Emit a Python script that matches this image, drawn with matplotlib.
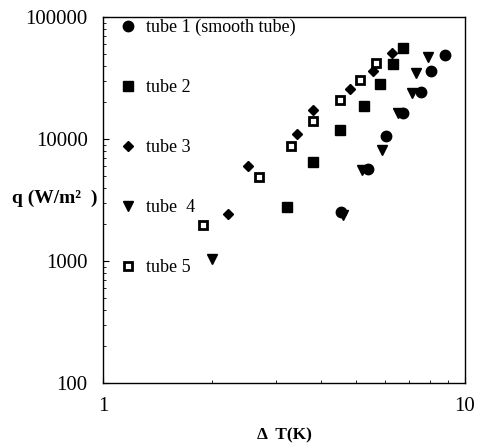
#!/usr/bin/env python3
# -*- coding: utf-8 -*-
"""Heat flux q vs. wall superheat dT for five tubes (log-log)."""
import matplotlib
matplotlib.use("Agg")
import matplotlib.pyplot as plt

plt.rcParams['font.family'] = ['Liberation Serif', 'DejaVu Serif']

# dT (K) and q (W/m^2)
dt_tube1 = [8.81, 8.04, 7.54, 6.75, 6.04, 5.41, 4.54]
q_tube1 = [48900, 36100, 24400, 16250, 10600, 5650, 2500]

dt_tube2 = [6.73, 6.34, 5.82, 5.26, 4.52, 3.81, 3.22]
q_tube2 = [55400, 41200, 28100, 18600, 11850, 6450, 2790]

dt_tube3 = [6.29, 5.58, 4.81, 3.81, 3.43, 2.51, 2.22]
q_tube3 = [51000, 36300, 25500, 17300, 10900, 6000, 2410]

dt_tube4 = [7.92, 7.32, 7.12, 6.54, 5.91, 5.18, 4.60, 2.00]
q_tube4 = [47300, 34900, 24000, 16400, 8100, 5570, 2380, 1030]

dt_tube5 = [5.68, 5.13, 4.52, 3.81, 3.31, 2.69, 1.89]
q_tube5 = [42200, 30500, 20900, 14100, 8800, 4850, 1970]

labels = ["tube 1 (smooth tube)", "tube 2", "tube 3", "tube  4", "tube 5"]

fig = plt.figure(figsize=(4.81, 4.48), dpi=100)
ax = fig.add_axes([0.2141, 0.1451, 0.7526, 0.817])

ax.plot(dt_tube1, q_tube1, 'o', color='black', ms=7.5, label=labels[0])
ax.plot(dt_tube2, q_tube2, 's', color='black', ms=6.8, label=labels[1])
ax.plot(dt_tube3, q_tube3, 'D', color='black', ms=5.0, label=labels[2])
ax.plot(dt_tube4, q_tube4, 'v', color='black', ms=7.0, label=labels[3])
ax.plot(dt_tube5, q_tube5, 's', mfc='white', mec='black', mew=2.0, ms=5.3,
        label=labels[4])

ax.set_xscale('log')
ax.set_yscale('log')
ax.set_xlim(1, 10)
ax.set_ylim(100, 100000)

ax.set_xticks([1, 10])
ax.set_xticklabels(['1', '10'])
ax.set_yticks([100, 1000, 10000, 100000])
ax.set_yticklabels(['100', '1000', '10000', '100000'])
ax.tick_params(which='major', direction='in', length=4, width=0.8,
               labelsize=15, pad=11)
ax.tick_params(axis='x', which='major', pad=10)
ax.tick_params(which='minor', direction='in', length=2.5, width=0.6)
ax.yaxis.set_minor_formatter(matplotlib.ticker.NullFormatter())
ax.xaxis.set_minor_formatter(matplotlib.ticker.NullFormatter())
for s in ax.spines.values():
    s.set_linewidth(1.0)

ax.set_xlabel("Δ  T(K)", fontsize=12.5, fontweight='bold', labelpad=8)
ax.set_ylabel("q (W/m²  )", fontsize=14, fontweight='bold', rotation=0,
              ha='right', va='center')
ax.yaxis.set_label_coords(-0.015, 0.505)

ax.legend(loc='upper left', bbox_to_anchor=(0.025, 1.02), frameon=False,
          fontsize=13, labelspacing=2.38, handlelength=0.8,
          handletextpad=0.6, borderaxespad=0.3, borderpad=0.2)

fig.savefig("out.png", dpi=100)
